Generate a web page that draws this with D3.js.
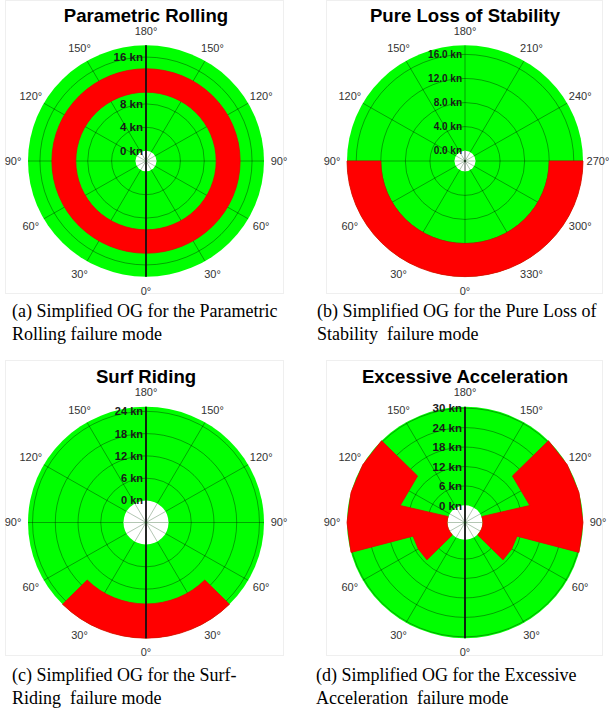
<!DOCTYPE html>
<html>
<head>
<meta charset="utf-8">
<script src="https://cdn.jsdelivr.net/npm/d3@7"></script>
<style>
  html, body { margin: 0; padding: 0; background: #fff; }
  svg { display: block; }
  .title { font-family: "Liberation Sans", Arial, Helvetica, sans-serif; font-weight: bold; font-size: 18.6px; fill: #000; }
  .ang { font-family: "Liberation Sans", Arial, Helvetica, sans-serif; font-size: 11px; fill: #333; }
  .kn { font-family: "Liberation Sans", Arial, Helvetica, sans-serif; font-weight: bold; fill: #1a1a1a; }
  .cap { font-family: "Liberation Serif", "Times New Roman", serif; font-size: 18px; fill: #000; white-space: pre; }
</style>
</head>
<body>
<script>
// ---- Titles and captions ----
const titles = ["Parametric Rolling", "Pure Loss of Stability", "Surf Riding", "Excessive Acceleration"];
const captionLine1 = [
  "(a) Simplified OG for the Parametric",
  "(b) Simplified OG for the Pure Loss of",
  "(c) Simplified OG for the Surf-",
  "(d) Simplified OG for the Excessive"
];
const captionLine2 = [
  "Rolling failure mode",
  "Stability  failure mode",
  "Riding  failure mode",
  "Acceleration  failure mode"
];

// ---- Speed axes (knots) ----
const speedTicksA = [0, 4, 8, 12, 16];
const speedTicksB = [0, 4, 8, 12, 16];
const speedTicksC = [0, 6, 12, 18, 24];
const speedTicksD = [0, 6, 12, 18, 24, 30];
const speedMax = [18, 17.5, 25.2, 30.4];

// ---- Heading labels (degrees, measured from the bottom) ----
const headingsMirrored = [0, 30, 60, 90, 120, 150, 180];
const headingsFull = [0, 30, 60, 90, 120, 150, 180, 210, 240, 270, 300, 330];
const spokeHeadings = [0, 30, 60, 90, 120, 150, 180, 210, 240, 270, 300, 330];

// ---- Unsafe (red) regions ----
// sectors: [heading from, heading to, speed low, speed high]
const unsafeA = [[0, 360, 10, 14]];
const unsafeB = [[-90, 90, 12, 17.5]];
const unsafeC = [[-45, 45, 16, 25.2]];
// starboard-side polygon for excessive acceleration: [heading, speed]
const unsafeD = [
  [135, 30.4], [120, 30.4], [105, 30.4], [90, 30.4], [75, 30.4],
  [75, 11], [60, 11], [45, 11], [45, 0], [110, 0], [105, 15], [135, 15]
];

// ---- Layout ----
const W = 609, H = 711;
const R = 118, KY = 0.98;
const cxs = [146, 465, 146, 465];
const cys = [161, 161, 522.5, 522.5];
const holes = [10.5, 10.5, 22.5, 17.5];
const knFont = [11.5, 10, 11, 11.5];
const titleY = [22, 22, 383, 383];
const capX = [12, 317, 12, 316];
const capY = [317, 317, 681, 681];

const svg = d3.select("body").append("svg")
  .attr("width", W).attr("height", H);
const defs = svg.append("defs");

svg.append("rect").attr("width", W).attr("height", H).attr("fill", "#fff");

// faint image frames around each plot
const frames = [[5, 0, 278, 293], [326, 0, 276, 293], [5, 360, 278, 295], [326, 360, 276, 295]];
frames.forEach(f => {
  svg.append("rect").attr("x", f[0] + 0.5).attr("y", f[1] + 0.5)
    .attr("width", f[2]).attr("height", f[3])
    .attr("fill", "none").attr("stroke", "#efefef").attr("stroke-width", 1);
});

const rad = d => d * Math.PI / 180;

function drawPanel(i, ticks, fmt, headings, clockwiseLabels, sectors, poly, boldAxis) {
  const cx = cxs[i], cy = cys[i], hole = holes[i];
  const r = d3.scaleLinear().domain([0, speedMax[i]]).range([hole, R]);
  const g = svg.append("g").attr("transform", `translate(${cx},${cy})`);
  // layers: polar grid + hole, speed labels, unsafe regions, axis
  const base = g.append("g").attr("transform", `scale(1,${KY})`);
  const labels = g.append("g");
  const top = g.append("g").attr("transform", `scale(1,${KY})`);

  // mask keeping unsafe regions out of the centre hole
  const mask = defs.append("mask").attr("id", "hole" + i)
    .attr("maskUnits", "userSpaceOnUse")
    .attr("x", -R - 10).attr("y", -R - 10).attr("width", 2 * R + 20).attr("height", 2 * R + 20);
  mask.append("rect").attr("x", -R - 10).attr("y", -R - 10)
    .attr("width", 2 * R + 20).attr("height", 2 * R + 20).attr("fill", "#fff");
  mask.append("circle").attr("r", hole).attr("fill", "#000");

  // safe background
  base.append("circle").attr("r", R).attr("fill", "#00ff00");

  // speed rings
  base.selectAll("circle.ring").data(ticks.filter(t => t > 0)).join("circle")
    .attr("class", "ring").attr("r", d => r(d))
    .attr("fill", "none").attr("stroke", "#000").attr("stroke-opacity", 0.45)
    .attr("stroke-width", 0.8).attr("vector-effect", "non-scaling-stroke");

  // heading spokes
  base.selectAll("line.spoke").data(spokeHeadings).join("line")
    .attr("class", "spoke")
    .attr("x1", d => hole * Math.sin(rad(d))).attr("y1", d => hole * Math.cos(rad(d)))
    .attr("x2", d => R * Math.sin(rad(d))).attr("y2", d => R * Math.cos(rad(d)))
    .attr("stroke", "#000").attr("stroke-opacity", 0.45)
    .attr("stroke-width", 0.8).attr("vector-effect", "non-scaling-stroke");

  // centre hole
  base.append("circle").attr("r", hole).attr("fill", "#fff");
  base.selectAll("line.hs").data(spokeHeadings).join("line")
    .attr("class", "hs")
    .attr("x1", 0).attr("y1", 0)
    .attr("x2", d => hole * Math.sin(rad(d))).attr("y2", d => hole * Math.cos(rad(d)))
    .attr("stroke", "#7f9f7f").attr("stroke-opacity", 0.75)
    .attr("stroke-width", 0.8).attr("vector-effect", "non-scaling-stroke");

  // speed labels
  labels.selectAll("text.kn").data(ticks).join("text")
    .attr("class", "kn")
    .attr("x", -3).attr("y", d => -r(d) * KY)
    .attr("dy", "0.36em")
    .attr("text-anchor", "end")
    .style("font-size", knFont[i] + "px")
    .text(d => fmt(d) + " kn");

  const unsafe = top.append("g").attr("mask", `url(#hole${i})`);

  // unsafe sectors
  const arc = d3.arc();
  sectors.forEach(s => {
    unsafe.append("path")
      .attr("d", arc({
        innerRadius: r(s[2]), outerRadius: r(s[3]),
        startAngle: Math.PI - rad(s[1]), endAngle: Math.PI - rad(s[0])
      }))
      .attr("fill", "#ff0000").attr("stroke", "#e80000").attr("stroke-width", 0.8)
      .attr("vector-effect", "non-scaling-stroke");
  });

  // unsafe polygons (mirrored to port side)
  if (poly) {
    const line = d3.lineRadial()
      .angle(d => Math.PI - rad(d[0]))
      .radius(d => r(d[1]))
      .curve(d3.curveLinearClosed);
    [poly, poly.map(p => [-p[0], p[1]])].forEach(p => {
      unsafe.append("path").attr("d", line(p))
        .attr("fill", "#ff0000").attr("stroke", "#e80000").attr("stroke-width", 0.8)
        .attr("vector-effect", "non-scaling-stroke");
    });
  }

  // 0°-180° axis
  if (boldAxis) {
    top.append("line").attr("x1", 0).attr("x2", 0).attr("y1", -R).attr("y2", R)
      .attr("stroke", "#111").attr("stroke-width", 1.8).attr("vector-effect", "non-scaling-stroke");
  } else {
    top.append("line").attr("x1", 0).attr("x2", 0).attr("y1", -hole).attr("y2", hole)
      .attr("stroke", "#555").attr("stroke-width", 0.8).attr("vector-effect", "non-scaling-stroke");
  }
  top.append("circle").attr("r", 1.2).attr("fill", "#1a3a1a");

  // heading labels
  const Lx = 133, Ly = 130;
  const labelPos = [];
  headings.forEach(h => {
    const sides = (!clockwiseLabels && h > 0 && h < 180) ? [1, -1] : [clockwiseLabels ? -1 : 1];
    sides.forEach(sg => labelPos.push({ h, x: sg * Lx * Math.sin(rad(h)), y: Ly * Math.cos(rad(h)) }));
  });
  g.selectAll("text.ang").data(labelPos).join("text")
    .attr("class", "ang")
    .attr("x", d => d.x).attr("y", d => d.y)
    .attr("dy", "0.36em").attr("text-anchor", "middle")
    .text(d => d.h + "°");

  // title
  svg.append("text").attr("class", "title")
    .attr("x", cx).attr("y", titleY[i]).attr("text-anchor", "middle")
    .text(titles[i]);

  // caption
  svg.append("text").attr("class", "cap").attr("x", capX[i]).attr("y", capY[i]).text(captionLine1[i]);
  svg.append("text").attr("class", "cap").attr("x", capX[i]).attr("y", capY[i] + 23).text(captionLine2[i]);
}

const intFmt = d3.format("d");
const oneDec = d3.format(".1f");

drawPanel(0, speedTicksA, intFmt, headingsMirrored, false, unsafeA, null, true);
drawPanel(1, speedTicksB, oneDec, headingsFull, true, unsafeB, null, false);
drawPanel(2, speedTicksC, intFmt, headingsMirrored, false, unsafeC, null, true);
drawPanel(3, speedTicksD, intFmt, headingsMirrored, false, [], unsafeD, true);
</script>
</body>
</html>
